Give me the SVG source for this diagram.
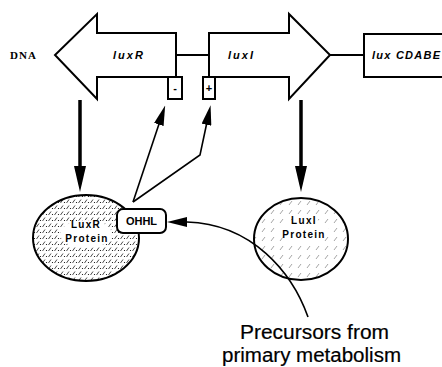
<svg xmlns="http://www.w3.org/2000/svg" width="442" height="367" viewBox="0 0 442 367">
<style>
.shape{fill:#fff;stroke:#000;stroke-width:2}
.lbl{font-family:"Liberation Sans",Arial,sans-serif;font-weight:bold;font-style:italic;font-size:11px;fill:#000}
.prot{font-family:"Liberation Sans",Arial,sans-serif;font-weight:bold;font-size:10px;letter-spacing:1.3px;fill:#000;text-anchor:middle}
.big{font-family:"Liberation Sans",Arial,sans-serif;font-size:20px;fill:#000;stroke:#000;stroke-width:0.2}
.thin{fill:none;stroke:#000;stroke-width:1.6}
.thick{fill:none;stroke:#000;stroke-width:3.5}
</style>
<defs>
<marker id="bigHead" viewBox="0 0 26 12" refX="14" refY="6" markerWidth="26" markerHeight="12" markerUnits="userSpaceOnUse" orient="auto">
<path d="M0,0 L26,6 L0,12 z" fill="#000"/>
</marker>
<marker id="smallHead" viewBox="0 0 20 10" refX="10" refY="5" markerWidth="20" markerHeight="10" markerUnits="userSpaceOnUse" orient="auto">
<path d="M0,0 L20,5 L0,10 z" fill="#000"/>
</marker>
<pattern id="stipple" width="6" height="6" patternUnits="userSpaceOnUse">
<rect width="6" height="6" fill="#fff"/>
<path d="M0.5,5 L3,1.5" stroke="#000" stroke-width="0.7"/>
<circle cx="4.5" cy="4.5" r="0.6" fill="#000"/>
</pattern>
<pattern id="hatch" width="9" height="9" patternUnits="userSpaceOnUse">
<rect width="9" height="9" fill="#fff"/>
<path d="M1,7 L4,3" stroke="#666" stroke-width="0.6"/>
</pattern>
</defs>

<text x="10" y="59" style="font-family:'Liberation Serif','Times New Roman',serif;font-weight:bold;font-size:11px;letter-spacing:1px">DNA</text>

<g id="luxR">
<polygon class="shape" points="176,33 97,33 97,14 55,55 97,99 97,77 176,77"/>
<text class="lbl" x="113" y="59" letter-spacing="2">luxR</text>
</g>
<g id="minus">
<rect class="shape" x="168" y="77" width="14" height="22" stroke-width="1.5"/>
<text x="175" y="92" style="font-family:'Liberation Sans',Arial,sans-serif;font-weight:bold;font-size:11px;text-anchor:middle">-</text>
</g>
<g id="luxI">
<polygon class="shape" points="209,33 289,33 289,14 330,55 289,99 289,77 209,77"/>
<text class="lbl" x="228" y="59" letter-spacing="2">luxI</text>
</g>
<g id="plus">
<rect class="shape" x="203" y="77" width="12" height="22" stroke-width="1.5"/>
<text x="209" y="92" style="font-family:'Liberation Sans',Arial,sans-serif;font-weight:bold;font-size:11px;text-anchor:middle">+</text>
</g>
<g id="luxCDABE">
<rect class="shape" x="364" y="34" width="86" height="43"/>
<text class="lbl" x="372" y="59" textLength="68" lengthAdjust="spacing">lux CDABE</text>
</g>

<g id="luxRProtein">
<ellipse cx="86" cy="238" rx="53" ry="43" fill="url(#stipple)" stroke="#000" stroke-width="2"/>
<ellipse cx="86" cy="234" rx="26" ry="14" fill="#fff"/>
<text class="prot" x="86" y="228">LuxR</text>
<text class="prot" x="87" y="242">Protein</text>
</g>
<g id="OHHL">
<rect x="117" y="209" width="49" height="24" rx="6" fill="#fff" stroke="#000" stroke-width="2"/>
<text x="141.5" y="225" style="font-family:'Liberation Sans',Arial,sans-serif;font-weight:bold;font-size:11px;text-anchor:middle">OHHL</text>
</g>
<g id="luxIProtein">
<ellipse cx="301" cy="239" rx="47" ry="41" fill="url(#hatch)" stroke="#000" stroke-width="2"/>
<ellipse cx="304" cy="231" rx="25" ry="13" fill="#fff"/>
<text class="prot" x="304" y="224">LuxI</text>
<text class="prot" x="304" y="238">Protein</text>
</g>

<g id="connectors">
<line x1="176" y1="55" x2="209" y2="55" stroke="#000" stroke-width="2"/>
<line x1="330" y1="55" x2="364" y2="55" stroke="#000" stroke-width="2"/>
<line class="thick" x1="80" y1="100" x2="80" y2="180" marker-end="url(#bigHead)"/>
<line class="thick" x1="301" y1="100" x2="301" y2="180" marker-end="url(#bigHead)"/>
<line class="thin" x1="133" y1="202" x2="162" y2="115" marker-end="url(#smallHead)"/>
<polyline class="thin" points="133,202 200,155 208.5,115" marker-end="url(#smallHead)"/>
<path class="thin" d="M308,317 C292,272 252,224 187,222 L177,222" marker-end="url(#smallHead)"/>
</g>

<g id="precursors">
<text class="big" x="240" y="339" textLength="149" lengthAdjust="spacingAndGlyphs">Precursors from</text>
<text class="big" x="222" y="362" textLength="179" lengthAdjust="spacingAndGlyphs">primary metabolism</text>
</g>
</svg>
